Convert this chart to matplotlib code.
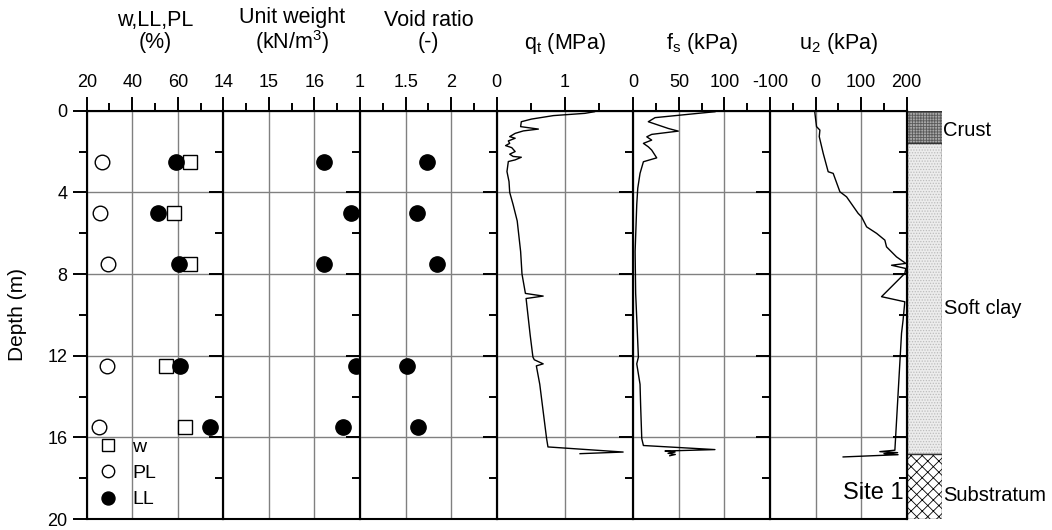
import matplotlib
matplotlib.use("Agg")
import matplotlib.pyplot as plt
from matplotlib.patches import Rectangle

plt.rcParams['font.family'] = ['Liberation Sans', 'DejaVu Sans']
plt.rcParams['mathtext.fontset'] = 'custom'
plt.rcParams['mathtext.rm'] = 'Liberation Sans'
plt.rcParams['mathtext.it'] = 'Liberation Sans'
plt.rcParams['hatch.linewidth'] = 0.6

# ---------------- data ----------------
depth_lab = [2.5, 5.0, 7.5, 12.5, 15.5]
w_content = [65.5, 58.2, 65.5, 55.0, 63.0]
plastic_limit = [26.9, 25.8, 29.5, 29.1, 25.4]
liquid_limit = [59.0, 51.4, 60.7, 61.1, 74.0]
unit_weight = [16.21, 16.80, 16.21, 16.91, 16.62]
void_ratio = [1.73, 1.62, 1.84, 1.51, 1.64]

qt_depth = [0.05, 0.13, 0.24, 0.41, 0.54, 0.78, 0.90, 0.99, 1.11, 1.27, 1.35, 1.48,
            1.60, 1.71, 1.81, 2.00, 2.13, 2.24, 2.28, 2.41, 2.49, 2.98, 3.47, 4.0,
            4.6, 5.4, 6.0, 6.9, 8.0, 8.95, 9.08, 9.2, 10.1, 11.0, 12.07, 12.2, 12.4,
            12.5, 13.4, 14.2, 15.0, 16.06, 16.47, 16.72, 16.8]
qt_mpa = [1.43, 1.29, 0.83, 0.51, 0.36, 0.35, 0.61, 0.39, 0.27, 0.19, 0.27, 0.17,
          0.19, 0.13, 0.22, 0.27, 0.19, 0.24, 0.36, 0.27, 0.17, 0.15, 0.18, 0.19,
          0.24, 0.30, 0.32, 0.35, 0.37, 0.42, 0.68, 0.43, 0.46, 0.49, 0.53, 0.55, 0.68,
          0.58, 0.63, 0.66, 0.69, 0.73, 0.75, 1.85, 1.22]

fs_depth = [0.05, 0.13, 0.34, 0.54, 0.87, 1.0, 1.16, 1.28, 1.44, 1.6, 1.77, 1.93,
            2.31, 2.5, 3.07, 3.8, 4.6, 5.5, 6.9, 8.95, 10.5, 12.07, 12.4, 13.4, 14.5,
            16.06, 16.4, 16.6, 16.67, 16.72, 16.78, 16.84, 16.9]
fs_kpa = [89.5, 71, 23.8, 16.4, 38.3, 49.3, 20.1, 14.7, 20.1, 11, 16.4, 20.1,
          25.6, 11, 7.3, 4.8, 3.7, 3.0, 1.9, 2.5, 4.0, 5.5, 3.7, 7.3, 8.0,
          9.2, 11, 89.5, 34.7, 45.7, 38, 46, 40]

u2_depth = [0.0, 0.13, 0.78, 0.95, 1.27, 2.09, 2.99, 3.07, 3.97, 4.22, 5.03, 5.2,
            5.69, 6.01, 6.34, 6.67, 7.16, 7.48, 7.57, 7.73, 7.97, 9.11, 9.36, 10.26,
            10.9, 16.63, 16.7, 16.75, 16.8, 16.85, 16.96]
u2_kpa = [-2, -1.5, 2, 9.4, 8, 16.7, 27.6, 38.6, 53.3, 68, 93.4, 100.9,
          112, 134, 152, 155.7, 177.6, 198, 166.7, 198, 195.8, 144.7, 195.8, 192,
          188.6, 174, 141, 180, 150, 181, 60.5]

layer_names = ['Crust', 'Soft clay', 'Substratum']
layer_top = [0.0, 1.6, 16.83]
layer_bottom = [1.6, 16.83, 20.0]

panel_titles = ['w,LL,PL\n(%)', 'Unit weight\n(kN/m$^\\mathregular{3}$)', 'Void ratio\n(-)',
                'q$_\\mathregular{t}$ (MPa)', 'f$_\\mathregular{s}$ (kPa)', 'u$_\\mathregular{2}$ (kPa)']
panel_xlim = [(20, 80), (14, 17), (1, 2.5), (0, 2), (0, 150), (-100, 200)]
panel_major = [[20, 40, 60], [14, 15, 16], [1, 1.5, 2], [0, 1], [0, 50, 100], [-100, 0, 100, 200]]
panel_minor = [[30, 50, 70], [14.5, 15.5, 16.5], [1.25, 1.75, 2.25], [0.5, 1.5],
               [25, 75, 125], [-50, 50, 150]]
panel_labels = [['20', '40', '60'], ['14', '15', '16'], ['1', '1.5', '2'], ['0', '1'],
                ['0', '50', '100'], ['-100', '0', '100', '200']]
depth_major = [0, 4, 8, 12, 16, 20]
depth_minor = [2, 6, 10, 14, 18]

# ---------------- layout ----------------
W, H = 1052, 530
fig = plt.figure(figsize=(W / 100, H / 100), dpi=100)
x0, pw = 86.7, 136.67
ytop, ybot = 110.7, 519.0
ah = ybot - ytop
GRID = '#808080'
TICKFS = 13
TITLEFS = 15.5

axes = []
for i in range(6):
    ax = fig.add_axes([(x0 + i * pw) / W, 1 - ybot / H, pw / W, ah / H])
    ax.set_xlim(*panel_xlim[i])
    ax.set_ylim(20, 0)
    ax.xaxis.tick_top()
    ax.set_xticks(panel_major[i])
    ax.set_xticklabels(panel_labels[i])
    ax.set_xticks(panel_minor[i], minor=True)
    ax.tick_params(axis='x', which='major', direction='out', length=10, width=1.4,
                   labelsize=TICKFS, pad=4, top=True, bottom=False)
    ax.tick_params(axis='x', which='minor', direction='out', length=5.5, width=1.4,
                   top=True, bottom=False)
    ax.set_yticks(depth_major)
    ax.set_yticks(depth_minor, minor=True)
    ax.tick_params(axis='y', which='major', direction='out', length=10, width=1.4,
                   labelsize=TICKFS, left=True, right=False, labelleft=(i == 0), pad=4)
    ax.tick_params(axis='y', which='minor', direction='out', length=5.5, width=1.4,
                   left=True, right=False)
    for s in ax.spines.values():
        s.set_linewidth(1.5)
    for v in panel_major[i]:
        ax.axvline(v, color=GRID, lw=1.0, zorder=0.5)
    for d in depth_major:
        ax.axhline(d, color=GRID, lw=1.0, zorder=0.5)
    ty = 31.5 if i < 3 else 43.5
    ax.text(0.5, 1.0 + (ytop - ty) / ah, panel_titles[i], transform=ax.transAxes,
            ha='center', va='center', fontsize=TITLEFS, linespacing=1.02)
    axes.append(ax)

axes[0].set_ylabel('Depth (m)', fontsize=15)
axes[0].yaxis.set_label_coords((27 - x0) / pw, 0.5)

# panel 1: index properties
a = axes[0]
a.plot(w_content, depth_lab, ls='none', marker='s', ms=10, mfc='white', mec='black', mew=1.0, label='w', clip_on=False)
a.plot(plastic_limit, depth_lab, ls='none', marker='o', ms=10.5, mfc='white', mec='black', mew=1.0, label='PL', clip_on=False)
a.plot(liquid_limit, depth_lab, ls='none', marker='o', ms=11, mfc='black', mec='black', label='LL', clip_on=False, zorder=3)
a.legend(loc='upper left', bbox_to_anchor=(0.085, 0.198), frameon=False, fontsize=14,
         handlelength=1.0, handletextpad=0.75, labelspacing=0.45, borderpad=0,
         borderaxespad=0, markerscale=0.85)

axes[1].plot(unit_weight, depth_lab, ls='none', marker='o', ms=11, mfc='black', mec='black', clip_on=False, zorder=3)
axes[2].plot(void_ratio, depth_lab, ls='none', marker='o', ms=11, mfc='black', mec='black', clip_on=False, zorder=3)

axes[3].plot(qt_mpa, qt_depth, color='black', lw=1.0)
axes[4].plot(fs_kpa, fs_depth, color='black', lw=1.0)
axes[5].plot(u2_kpa, u2_depth, color='black', lw=1.0)

axes[5].text((903.3 - (x0 + 5 * pw)) / pw, 18.75, 'Site 1', transform=axes[5].get_yaxis_transform(),
             ha='right', va='center', fontsize=17)

# ---------------- strata column ----------------
sx0, sx1 = 906.7, 941.7
sax = fig.add_axes([sx0 / W, 1 - ybot / H, (sx1 - sx0) / W, ah / H])
sax.set_xlim(0, 1)
sax.set_ylim(20, 0)
sax.set_xticks([])
sax.set_yticks(depth_major)
sax.set_yticks(depth_minor, minor=True)
sax.tick_params(axis='y', which='major', direction='out', length=10, width=1.4, labelleft=False)
sax.tick_params(axis='y', which='minor', direction='out', length=5.5, width=1.4)
for s in sax.spines.values():
    s.set_visible(False)
sax.spines['left'].set_visible(True)
sax.spines['left'].set_linewidth(1.5)
sax.patch.set_alpha(0)

fills = [('#a8a8a8', '#5a5a5a', '++++++'), ('#ececec', '#bcbcbc', '......'), ('white', 'black', 'xxx')]
for name, t0, t1, (fc, hc, hatch) in zip(layer_names, layer_top, layer_bottom, fills):
    sax.add_patch(Rectangle((0, t0), 1, t1 - t0, facecolor=fc, edgecolor=hc, hatch=hatch, lw=0))
    sax.add_patch(Rectangle((0, t0), 1, t1 - t0, facecolor='none', edgecolor='#333333', lw=1.0))
label_depth = [0.95, 9.7, 18.85]
for name, d in zip(layer_names, label_depth):
    sax.text((943.5 - sx0) / (sx1 - sx0), d, name, ha='left', va='center', fontsize=14.5, clip_on=False)

fig.savefig('out.png', dpi=100)
